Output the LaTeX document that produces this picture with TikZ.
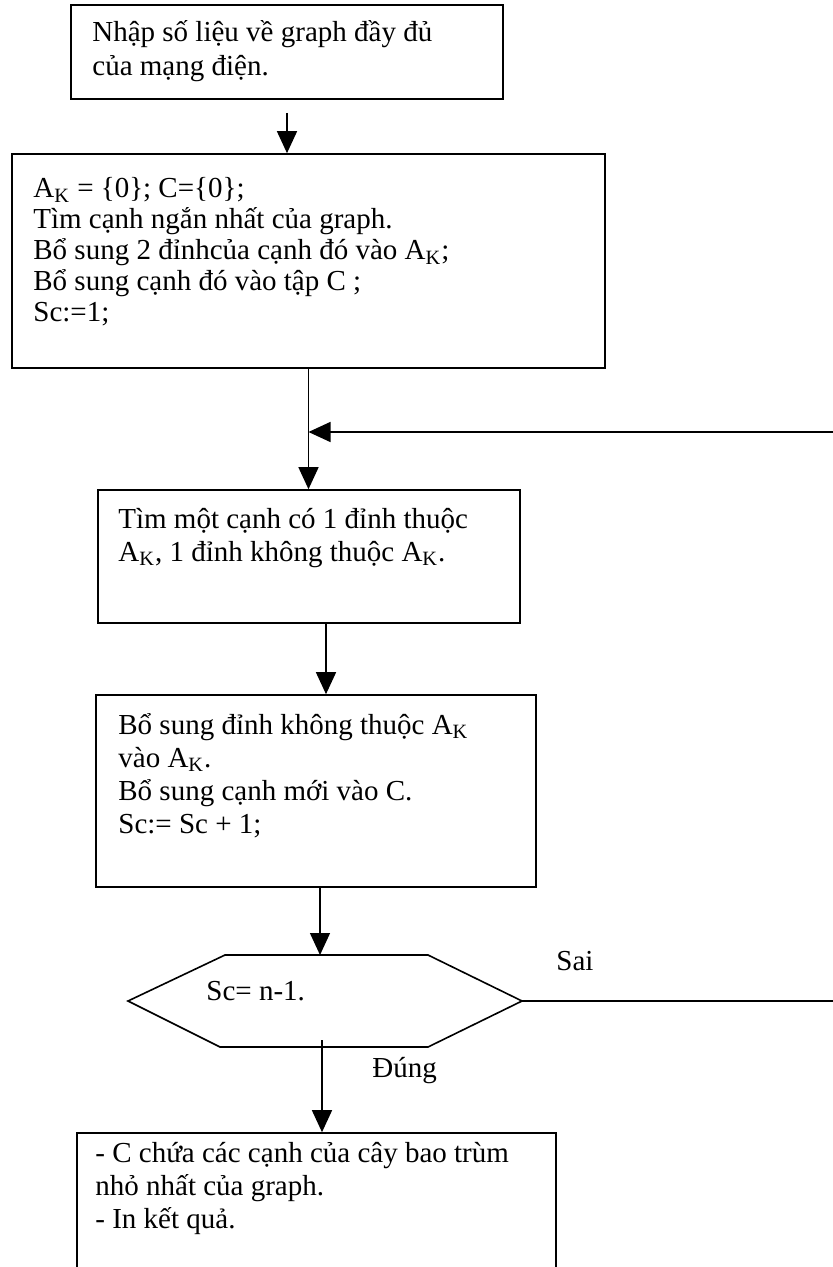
\documentclass[tikz,border=0pt]{standalone}
\usepackage{fontspec}
\setmainfont{Liberation Serif}
\usetikzlibrary{arrows.meta,fit}
\newcommand{\mylines}[1]{\begin{tabular}[t]{@{}l@{}}#1\end{tabular}}
\newcommand{\AK}{A\textsubscript{K}}
\begin{document}
\begin{tikzpicture}[x=0.5pt,y=-0.5pt,
  box/.style={draw, line width=0.8pt, inner sep=0pt},
  txt/.style={inner sep=0pt, anchor=base west},
  arr/.style={line width=0.7pt, -{Triangle[length=11pt,width=10pt]}},
  hexline/.style={line width=0.8pt, line join=miter}]
\useasboundingbox (0,0) rectangle (832,1267);

% boxes
\node[box, fit={(71,5) (503,99)}] (b1) {};
\node[box, fit={(12,154) (605,368)}] (b2) {};
\node[box, fit={(98,490) (520,623)}] (b3) {};
\node[box, fit={(96,695) (536,887)}] (b4) {};
\node[box, fit={(77,1133) (556,1300)}] (b5) {};

% hexagon
\coordinate (hL) at (128,1001);
\coordinate (hTL) at (225,955);
\coordinate (hTR) at (428,955);
\coordinate (hR) at (522,1001);
\coordinate (hBR) at (428,1047);
\coordinate (hBL) at (220,1047);
\draw[hexline] (hL) -- (hTL) -- (hTR) -- (hR) -- (hBR) -- (hBL) -- cycle;

% texts
\node[txt, font=\fontsize{14.5}{17}\selectfont] (t1) at (92,42)
  {\mylines{Nhập số liệu về graph đầy đủ\\của mạng điện.}};
\node[txt, font=\fontsize{14.5}{15.5}\selectfont] (t2) at (33,198)
  {\mylines{\AK{} = \{0\}; C=\{0\};\\Tìm cạnh ngắn nhất của graph.\\Bổ sung 2 đỉnhcủa cạnh đó vào \AK;\\Bổ sung cạnh đó vào tập C ;\\Sc:=1;}};
\node[txt, font=\fontsize{14.5}{16.5}\selectfont] (t3) at (118,528)
  {\mylines{Tìm một cạnh có 1 đỉnh thuộc\\\AK, 1 đỉnh không thuộc \AK.}};
\node[txt, font=\fontsize{14.5}{16.5}\selectfont] (t4) at (118,734)
  {\mylines{Bổ sung đỉnh không thuộc \AK\\vào \AK.\\Bổ sung cạnh mới vào C.\\Sc:= Sc + 1;}};
\node[txt, font=\fontsize{14.5}{16.5}\selectfont] (hx) at (206,1000) {Sc= n-1.};
\node[txt, font=\fontsize{14.5}{16.5}\selectfont] (sai) at (556,970) {Sai};
\node[txt, font=\fontsize{14.5}{16.5}\selectfont] (dung) at (372,1077) {Đúng};
\node[txt, font=\fontsize{14.5}{16.5}\selectfont] (t5) at (95,1162)
  {\mylines{- C chứa các cạnh của cây bao trùm\\nhỏ nhất của graph.\\- In kết quả.}};

% connectors
\coordinate (c3) at (326,0);
\coordinate (hT) at (320,955);
\coordinate (hB) at (322,1040);
\coordinate (j) at (b2.south |- 0,432);
\draw[arr] ([yshift=-6.5pt]b1.south) -- (b1.south |- b2.north);
\draw[arr] (b2.south) -- (b2.south |- b3.north);
\draw[arr] (b3.south -| c3) -- (b4.north -| c3);
\draw[arr] (b4.south -| hT) -- (hT);
\draw[arr] (hB) -- (b5.north -| hB);
\draw[arr] (hR) -- (870,1001) -- (870,432) -- (j);
\end{tikzpicture}
\end{document}
